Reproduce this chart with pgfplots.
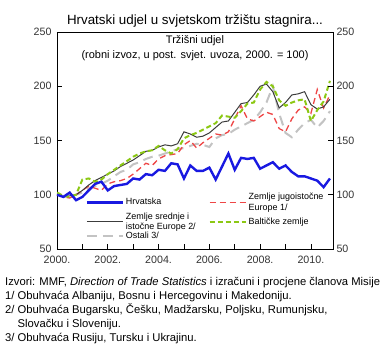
\documentclass[border=0pt]{standalone}
\usepackage{fontspec}
\setmainfont{Liberation Sans}
\usepackage{pgfplots}
\usepackage{pgfplotstable}
\pgfplotsset{compat=1.18}
\definecolor{hrblue}{RGB}{25,25,225}
\definecolor{ceblack}{RGB}{60,60,60}
\definecolor{seered}{RGB}{238,70,70}
\definecolor{baltgreen}{RGB}{140,200,20}
\definecolor{othgray}{RGB}{195,195,195}

\pgfplotstableread{
x hr ce see balt oth
2000.00 100 100 100 102 100
2000.25 98 98 98 99 99
2000.50 102 99 97 98 98
2000.75 95 100 100 100 100
2001.00 98 104 104 114 102
2001.25 104 109 108 115 106
2001.50 110 113 106 112 108
2001.75 112 116 104 114 110
2002.00 104 119 110 119 113
2002.25 108 122 112 123 117
2002.50 109 126 113 127 121
2002.75 110 129 115 131 123
2003.00 115 132 119 135 128
2003.25 114 136 124 138 130
2003.50 119 140 129 140 133
2003.75 118 141 127 141 135
2004.00 123 144 133 145 136
2004.25 122 146 136 141 138
2004.50 129 145 137 138 140
2004.75 128 147 138 142 142
2005.00 115 158 146 152 143
2005.25 127 156 150 155 145
2005.50 122 153 143 157 147
2005.75 122 154 148 160 146
2006.00 125 157 152 163 144
2006.25 114 162 156 166 152
2006.50 126 167 155 173 155
2006.75 138 168 158 172 156
2007.00 123 176 170 171 160
2007.25 134 184 182 177 163
2007.50 133 185 170 184 166
2007.75 134 192 168 185 169
2008.00 124 200 172 197 176
2008.25 127 202 176 204 185
2008.50 130 195 174 200 200
2008.75 124 180 161 187 175
2009.00 127 185 158 182 157
2009.25 121 192 170 185 153
2009.50 117 193 178 187 160
2009.75 117 195 181 188 166
2010.00 115 183 175 168 169
2010.25 113 179 197 178 162
2010.50 107 181 180 186 168
2010.75 115 188 192 205 177
}\datatable

\begin{document}
\begin{tikzpicture}[x=1bp,y=1bp]
\path[use as bounding box] (-57,-111) rectangle (333,249);
\begin{axis}[
  at={(0,0)}, anchor=south west,
  scale only axis, width=276bp, height=217bp,
  xmin=2000, xmax=2010.87, ymin=50, ymax=250,
  xtick={2000,2002,2004,2006,2008,2010},
  minor xtick={2001,2003,2005,2007,2009},
  xticklabels={2000.,2002.,2004.,2006.,2008.,2010.},
  xtick pos=left, ytick pos=left,
  ytick={50,100,150,200,250},
  tick align=inside,
  major tick length=5bp, minor tick length=5bp,
  tick style={black, line width=0.6bp},
  axis line style={black, line width=0.8bp},
  ticklabel style={font=\fontsize{10.7}{12}\selectfont, text=black!80},
  xticklabel style={yshift=-4bp},
  yticklabel style={xshift=-2bp},
  /pgf/number format/assume math mode=true,
  clip=true,
  legend columns=2,
  legend style={at={(axis cs:2001.0,104)}, anchor=north west, draw=none, fill=none,
    font=\fontsize{9}{10.5}\selectfont, cells={anchor=west, align=left},
    nodes={inner ysep=0.5bp},
    /tikz/every even column/.append style={column sep=11bp},
    row sep=0bp},
  legend image code/.code={\draw[#1] (0bp,0bp) -- (36bp,0bp);},
]
\addplot[othgray, line width=2bp, dash pattern=on 10bp off 6bp, forget plot] table[x=x,y=oth] {\datatable};
\addplot[seered, line width=1.3bp, dash pattern=on 6bp off 4bp, forget plot] table[x=x,y=see] {\datatable};
\addplot[ceblack, line width=1bp, forget plot] table[x=x,y=ce] {\datatable};
\addplot[baltgreen, line width=2bp, dash pattern=on 5bp off 3bp, forget plot] table[x=x,y=balt] {\datatable};
\addplot[hrblue, line width=2.4bp, forget plot] table[x=x,y=hr] {\datatable};

\addlegendimage{hrblue, line width=2.4bp}
\addlegendentry{Hrvatska}
\addlegendimage{seered, line width=1.3bp, dash pattern=on 6bp off 4bp}
\addlegendentry{Zemlje jugoistočne\\Europe 1/}
\addlegendimage{ceblack, line width=1bp}
\addlegendentry{Zemlje srednje i\\istočne Europe 2/}
\addlegendimage{baltgreen, line width=2bp, dash pattern=on 5bp off 3bp}
\addlegendentry{Baltičke zemlje}
\addlegendimage{othgray, line width=2bp, dash pattern=on 10bp off 6bp}
\addlegendentry{Ostali 3/}
\end{axis}
\begin{axis}[
  at={(0,0)}, anchor=south west,
  scale only axis, width=276bp, height=217bp,
  xmin=2000, xmax=2010.87, ymin=50, ymax=250,
  xtick=\empty,
  ytick={50,100,150,200,250},
  ytick pos=right, yticklabel pos=right,
  tick align=inside,
  major tick length=5bp,
  tick style={black, line width=0.6bp},
  axis line style={draw=none},
  ticklabel style={font=\fontsize{10.7}{12}\selectfont, text=black!80},
  /pgf/number format/assume math mode=true,
]
\end{axis}
\node[font=\fontsize{13.4}{15}\selectfont, anchor=base] at (138,225) {Hrvatski udjel u svjetskom tržištu stagnira...};
\node[font=\fontsize{11}{15}\selectfont, align=center] at (138,200.5) {Tržišni udjel\\(robni izvoz, u post. svjet. uvoza, 2000. = 100)};
\node[font=\fontsize{11.3}{14}\selectfont, align=left, anchor=north west, inner sep=0pt] at (-52,-28)
{Izvori: MMF, \textit{Direction of Trade Statistics} i izračuni i procjene članova Misije\\
1/ Obuhvaća Albaniju, Bosnu i Hercegovinu i Makedoniju.\\
2/ Obuhvaća Bugarsku, Češku, Madžarsku, Poljsku, Rumunjsku,\\
\phantom{2/ }Slovačku i Sloveniju.\\
3/ Obuhvaća Rusiju, Tursku i Ukrajinu.};
\end{tikzpicture}
\end{document}
